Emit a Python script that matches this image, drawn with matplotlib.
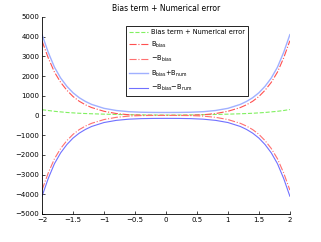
import numpy as np
import matplotlib
matplotlib.use("Agg")
import matplotlib.pyplot as plt

x = [-2.0, -1.9, -1.8, -1.7, -1.6, -1.5, -1.4, -1.3, -1.2, -1.0, -0.8, -0.6, -0.4, -0.2, 0.0,
     0.2, 0.4, 0.6, 0.8, 1.0, 1.2, 1.3, 1.4, 1.5, 1.6, 1.7, 1.8, 1.9, 2.0]
total_err = [290, 250, 210, 180, 150, 130, 110, 97, 85, 65, 50, 38, 28, 22, 20,
             22, 28, 38, 50, 65, 85, 97, 110, 130, 150, 180, 210, 250, 300]
b_bias = [3780, 2920, 2200, 1680, 1280, 960, 720, 540, 400, 210, 95, 35, 8, 1, 0,
          1, 8, 35, 95, 210, 400, 540, 720, 960, 1280, 1680, 2200, 2920, 3790]
b_sum = [4100, 3200, 2450, 1900, 1480, 1150, 900, 710, 560, 360, 250, 190, 162, 152, 150,
         152, 162, 190, 250, 360, 560, 710, 900, 1150, 1480, 1900, 2450, 3200, 4100]

x = np.array(x)
total_err = np.array(total_err)
b_bias = np.array(b_bias)
b_sum = np.array(b_sum)

fig = plt.figure(figsize=(3.21, 2.42), dpi=100)
ax = fig.add_axes([0.131, 0.116, 0.772, 0.814])

ax.plot(x, total_err, "--", color="#80f060", lw=0.8, label="Bias term + Numerical error")
ax.plot(x, b_bias, "-.", color="#ff5050", lw=0.8, label=r"B$_{\mathrm{bias}}$")
ax.plot(x, -b_bias, "-.", color="#ff7070", lw=0.8, label=r"$-$B$_{\mathrm{bias}}$")
ax.plot(x, b_sum, "-", color="#a0b0ff", lw=1.0, label=r"B$_{\mathrm{bias}}$+B$_{\mathrm{num}}$")
ax.plot(x, -b_sum, "-", color="#7070ff", lw=0.8, label=r"$-$B$_{\mathrm{bias}}$$-$B$_{\mathrm{num}}$")

ax.set_xlim(-2, 2)
ax.set_ylim(-5000, 5000)
ax.set_xticks(np.arange(-2, 2.01, 0.5))
ax.set_xticklabels(["\u22122", "\u22121.5", "\u22121", "\u22120.5", "0", "0.5", "1", "1.5", "2"])
ax.set_yticks(np.arange(-5000, 5001, 1000))
ax.tick_params(direction="in", labelsize=5, length=2, width=0.5, pad=2)
for s in ["top", "right"]:
    ax.spines[s].set_visible(False)
for s in ["left", "bottom"]:
    ax.spines[s].set_linewidth(0.6)
ax.set_title("Bias term + Numerical error", fontsize=5.5, pad=4)

leg = ax.legend(loc="upper left", bbox_to_anchor=(123 / 321, 1 - 23 / 242),
                bbox_transform=fig.transFigure, fontsize=4.8, fancybox=False,
                framealpha=1, edgecolor="black", handlelength=2.8,
                labelspacing=0.65, borderpad=0.45, handletextpad=0.4)
leg.get_frame().set_linewidth(0.6)

fig.savefig("out.png", dpi=100)
